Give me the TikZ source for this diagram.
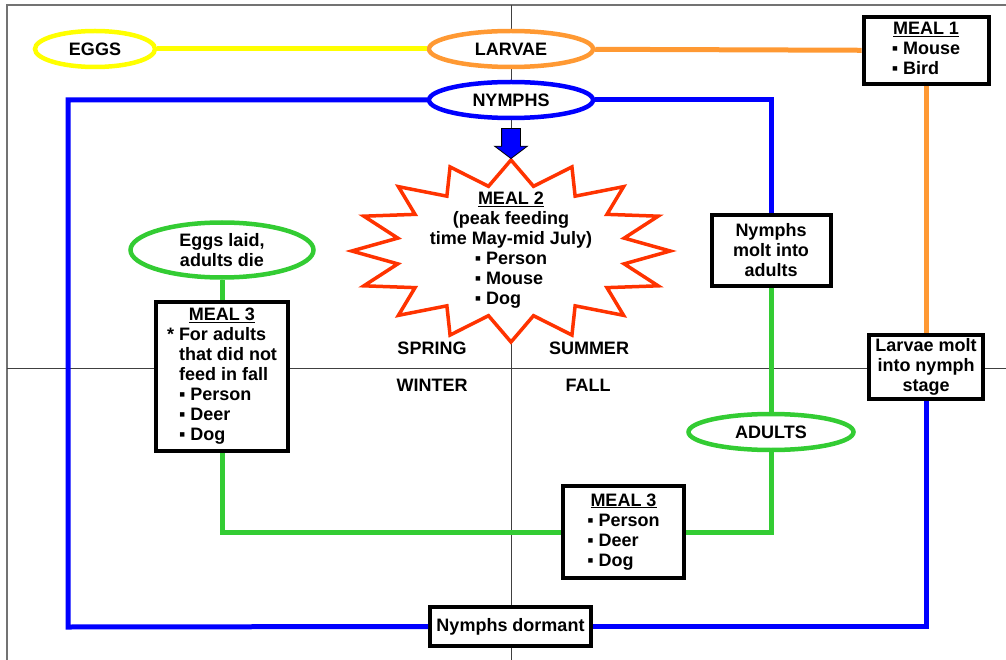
\documentclass[tikz,border=0pt]{standalone}
\usepackage{fontspec}
\setmainfont{Liberation Sans}
\usepackage{xcolor}
\usepackage{tikz}
\usetikzlibrary{arrows.meta, positioning, shapes.geometric, shapes.arrows}

\definecolor{eggyellow}{HTML}{FFFF00}
\definecolor{larvaorange}{HTML}{FF9933}
\definecolor{nymphblue}{HTML}{0000FF}
\definecolor{adultgreen}{HTML}{33CC33}
\definecolor{mealred}{HTML}{FF3300}

\begin{document}
\begin{tikzpicture}[
    x=1pt, y=-1pt,
    font=\fontsize{18}{20}\selectfont\bfseries,
    stage/.style={ellipse, draw, line width=4.5pt, fill=white, inner sep=0pt, minimum height=36},
    box/.style={rectangle, draw=black, line width=4pt, fill=white, inner sep=0pt},
    link/.style={line width=5pt},
    quarter/.style={line width=1pt, draw=black!75},
    season/.style={inner sep=0pt}
]
\useasboundingbox (0,0) rectangle (1006,660);

% Frame and seasons
\draw[line width=2pt, draw=black!55] (7,660) -- (7,5) -- (1006,5);
\draw[quarter] (511,5) -- (511,660);
\draw[quarter] (7,368) -- (1006,368);

% Nodes
\node[stage, draw=eggyellow, minimum width=120] (eggs) at (95,49) {EGGS};
\node[stage, draw=larvaorange, minimum width=164] (larvae) at (511,49) {LARVAE};
\node[stage, draw=nymphblue, minimum width=164] (nymphs) at (511,100) {NYMPHS};
\node[stage, draw=adultgreen, minimum width=165, minimum height=36] (adults) at (771,432) {ADULTS};
\node[stage, draw=adultgreen, minimum width=183, minimum height=55, align=center] (laid) at (222,250) {Eggs laid,\\adults die};

\node[box, minimum width=125, minimum height=67] (meal1) at (926,50.5)
  {\begin{tabular}{@{}l@{}}\multicolumn{1}{@{}c@{}}{\underline{MEAL 1}}\\ ▪ Mouse\\ ▪ Bird\end{tabular}};
\node[box, minimum width=119, minimum height=71, align=center] (nymphmolt) at (771,250.5) {Nymphs\\molt into\\adults};
\node[box, minimum width=114, minimum height=64, align=center] (larvamolt) at (926,367) {Larvae molt\\into nymph\\stage};
\node[box, minimum width=132, minimum height=149] (meal3a) at (222,376.5)
  {\begin{tabular}{@{}l@{}}\multicolumn{1}{@{}c@{}}{\underline{MEAL 3}}\\ {*} For adults\\ \phantom{* }that did not\\ \phantom{* }feed in fall\\
   \phantom{* }▪ Person\\ \phantom{* }▪ Deer\\ \phantom{* }▪ Dog\end{tabular}};
\node[box, minimum width=121, minimum height=92] (meal3b) at (623.5,532)
  {\begin{tabular}{@{}l@{}}\multicolumn{1}{@{}c@{}}{\underline{MEAL 3}}\\ ▪ Person\\ ▪ Deer\\ ▪ Dog\end{tabular}};
\node[box, minimum width=161, minimum height=39] (dormant) at (510.5,626.5) {Nymphs dormant};

\node[star, star points=16, star point ratio=1.38, minimum size=182, xscale=1.75, transform shape,
  draw=mealred, line width=3.5pt, fill=white, inner sep=0pt] (burst) at (511,251) {};
\node (meal2) at (511,251)
  {\begin{tabular}{@{}c@{}}\underline{MEAL 2}\\ (peak feeding\\ time May-mid July)\\
   \begin{tabular}[t]{@{}l@{}}▪ Person\\ ▪ Mouse\\ ▪ Dog\end{tabular}\end{tabular}};
\node[single arrow, draw=black, line width=0.8pt, fill=nymphblue, rotate=-90, inner xsep=0pt, inner ysep=9pt,
  minimum height=30, minimum width=32, single arrow head extend=7, single arrow tip angle=106] (feed) at (511,140) {};

\node[season] (spring) at (432,348) {SPRING};
\node[season] (summer) at (589,348) {SUMMER};
\node[season] (winter) at (432,385) {WINTER};
\node[season] (fall) at (588,385) {FALL};

% Edges
\draw[link, eggyellow] (eggs) -- (larvae);
\draw[link, larvaorange] (larvae) -- (meal1);
\draw[link, larvaorange] (meal1) -- (larvamolt);

\draw[link, nymphblue] (nymphs.west) -| (68,627) -- (dormant.west);
\draw[link, nymphblue] (nymphs.east) -| (nymphmolt.north);
\draw[link, nymphblue] (larvamolt.south) |- (dormant.east);

\draw[link, adultgreen] (nymphmolt) -- (adults);
\draw[link, adultgreen] (adults.south) |- (meal3b.east);
\draw[link, adultgreen] (meal3b.west) -| (meal3a.south);
\draw[link, adultgreen] (meal3a) -- (laid);

\end{tikzpicture}
\end{document}
